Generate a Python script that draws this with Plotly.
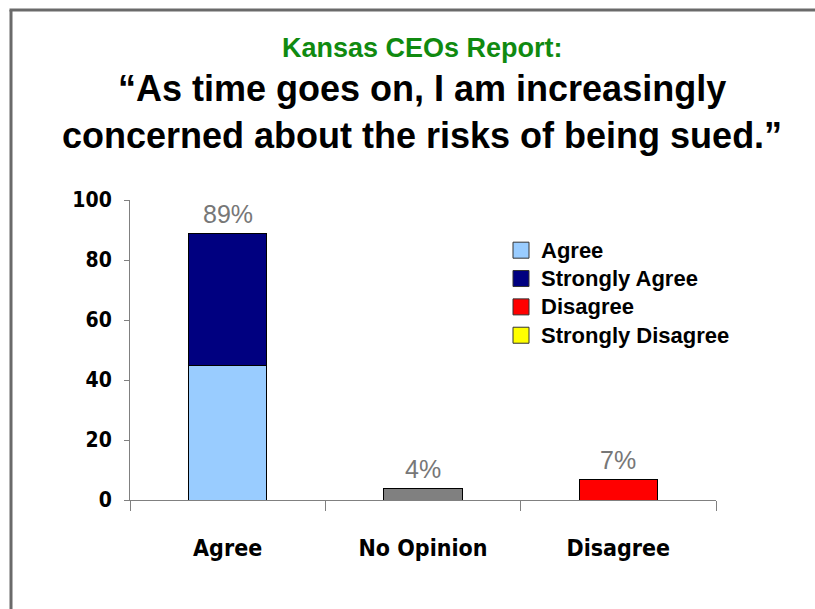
import plotly.graph_objects as go

# Survey responses (% of CEOs)
categories = ["Agree", "No Opinion", "Disagree"]
agree = [45, 0, 0]
strongly_agree = [44, 0, 0]
no_opinion = [0, 4, 0]
disagree = [0, 0, 7]
strongly_disagree = [0, 0, 0]
y_ticks = [0, 20, 40, 60, 80, 100]

W, H = 815, 609
L, R, T, B = 130, 99, 200, 109
PW, PH = W - L - R, H - T - B


def px_x(p):
    return (p - L) / PW


def px_y(p):
    return (H - B - p) / PH


COND = "Liberation Sans Narrow, Arial Narrow, DejaVu Sans Condensed, sans-serif"
ARIAL = "Liberation Sans, Arial, sans-serif"

series = [
    ("Agree", agree, "#99CCFF", True),
    ("Strongly Agree", strongly_agree, "#000080", True),
    ("No Opinion", no_opinion, "#808080", False),
    ("Disagree", disagree, "#FF0000", True),
    ("Strongly Disagree", strongly_disagree, "#FFFF00", True),
]

fig = go.Figure()
for name, vals, color, in_legend in series:
    xs = [c for c, v in zip(categories, vals) if v > 0]
    ys = [v for v in vals if v > 0]
    fig.add_trace(go.Bar(
        x=xs, y=ys, name=name, legendgroup=name, showlegend=False,
        marker=dict(color=color, line=dict(color="#000000", width=1)),
        width=0.4, hoverinfo="skip",
    ))
    if in_legend:
        # square legend swatch; label drawn a bit larger than the row pitch
        fig.add_trace(go.Scatter(
            x=[None], y=[None], mode="markers",
            name=f"<span style='font-size:22px'>{name}</span>",
            legendgroup=name,
            marker=dict(symbol="square", size=20, color=color,
                        line=dict(color="#333333", width=1)),
        ))

# totals above each bar
totals = [a + s + n + d + sd for a, s, n, d, sd in
          zip(agree, strongly_agree, no_opinion, disagree, strongly_disagree)]
for cat, tot in zip(categories, totals):
    fig.add_annotation(x=cat, y=tot, text=f"{tot}%", showarrow=False,
                       yanchor="bottom", yshift=3,
                       font=dict(family=ARIAL, size=25, color="#777777"))

# titles
fig.add_annotation(xref="paper", yref="paper", x=px_x(422), y=px_y(48),
                   xanchor="center", yanchor="middle",
                   text="<b>Kansas CEOs Report:</b>", showarrow=False,
                   font=dict(family=ARIAL, size=27, color="#108A10"))
fig.add_annotation(xref="paper", yref="paper", x=px_x(422), y=px_y(112),
                   xanchor="center", yanchor="middle",
                   text="<b>\u201cAs time goes on, I am increasingly<br>"
                        "concerned about the risks of being sued.\u201d</b>",
                   showarrow=False,
                   font=dict(family=ARIAL, size=36, color="#000000"))

# slide frame
frame = dict(color="#6a6a6a", width=3)
fig.add_shape(type="line", xref="paper", yref="paper",
              x0=px_x(9.5), x1=px_x(W + 5), y0=px_y(10), y1=px_y(10), line=frame)
fig.add_shape(type="line", xref="paper", yref="paper",
              x0=px_x(11), x1=px_x(11), y0=px_y(10), y1=px_y(H + 5), line=frame)

fig.update_layout(
    width=W, height=H, margin=dict(l=L, r=R, t=T, b=B),
    paper_bgcolor="white", plot_bgcolor="white",
    barmode="stack", bargap=0.6, showlegend=True,
    legend=dict(x=px_x(501), y=px_y(231), xanchor="left", yanchor="top",
                traceorder="grouped", tracegroupgap=0,
                font=dict(family=ARIAL, size=19.5, color="#000000", weight="bold"),
                bgcolor="rgba(0,0,0,0)"),
    xaxis=dict(categoryorder="array", categoryarray=categories,
               showline=True, linecolor="#808080", linewidth=1,
               ticks="outside", tickson="boundaries", ticklen=10,
               tickcolor="#808080", ticklabelstandoff=27,
               tickfont=dict(family=COND, size=23, color="#000000", weight="bold"),
               showgrid=False, zeroline=False),
    yaxis=dict(range=[0, 100], tickvals=y_ticks,
               showline=True, linecolor="#808080", linewidth=1,
               ticks="outside", ticklen=5, tickcolor="#808080",
               ticklabelstandoff=8,
               tickfont=dict(family=COND, size=21, color="#000000", weight="bold"),
               showgrid=False, zeroline=False),
)

fig.write_html("out.html")
